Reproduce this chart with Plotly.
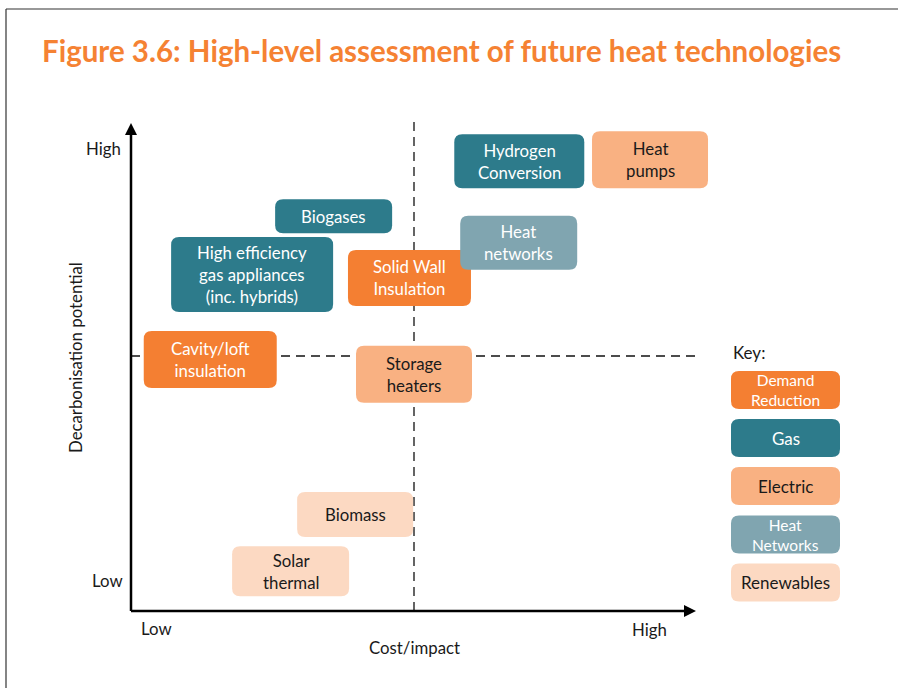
"""
Figure 3.6 — high-level assessment of future heat technologies.
Rounded boxes placed on a cost vs decarbonisation plane, with a key.
"""

import plotly.graph_objects as go

# ----------------------------------------------------------------------
# Data (cost/impact score, decarbonisation score on a 0–10 scale)
# ----------------------------------------------------------------------

technologies = [
    "Hydrogen<br>Conversion",
    "Heat<br>pumps",
    "Biogases",
    "Solid Wall<br>Insulation",
    "Heat<br>networks",
    "High efficiency<br>gas appliances<br>(inc. hybrids)",
    "Cavity/loft<br>insulation",
    "Storage<br>heaters",
    "Biomass",
    "Solar<br>thermal",
]
tech_group = [
    "Gas", "Electric", "Gas", "Demand Reduction", "Heat Networks",
    "Gas", "Demand Reduction", "Electric", "Renewables", "Renewables",
]
cost_impact = [6.86, 9.17, 3.58, 4.92, 6.85, 2.14, 1.40, 5.00, 3.96, 2.82]
decarbonisation = [8.82, 8.85, 7.74, 6.53, 7.22, 6.60, 4.93, 4.64, 1.89, 0.78]

key_groups = ["Demand Reduction", "Gas", "Electric", "Heat Networks", "Renewables"]
key_labels = ["Demand<br>Reduction", "Gas", "Electric", "Heat<br>Networks", "Renewables"]

axis_ticks = ["Low", "High"]

# ----------------------------------------------------------------------
# Styling
# ----------------------------------------------------------------------

W, H = 898, 688
X_UNIT, Y_UNIT = 56.6, 51.0      # pixels per score unit
ORIGIN_PX = (131, 611)           # pixel position of (0, 0)
FONT = "Lato"

fill_colour = {
    "Demand Reduction": "#F47F32",
    "Gas":              "#2D7B8B",
    "Electric":         "#F9B182",
    "Heat Networks":    "#80A5B0",
    "Renewables":       "#FCD9C2",
}
text_colour = {
    "Demand Reduction": "#FFFFFF",
    "Gas":              "#FFFFFF",
    "Electric":         "#1A1A1A",
    "Heat Networks":    "#FFFFFF",
    "Renewables":       "#1A1A1A",
}
# box sizes in pixels (width, height)
box_size = [
    (130, 54), (116, 57), (117, 34), (123, 56), (117, 54),
    (162, 75), (133, 57), (116, 57), (116, 45), (117, 50),
]


def px_x(px):
    return (px - ORIGIN_PX[0]) / X_UNIT


def px_y(py):
    return (ORIGIN_PX[1] - py) / Y_UNIT


def rounded_box(cx, cy, w_px, h_px, colour, r_px=8):
    """Rounded rectangle shape centred on (cx, cy) in data units."""
    hw, hh = w_px / 2 / X_UNIT, h_px / 2 / Y_UNIT
    rx, ry = r_px / X_UNIT, r_px / Y_UNIT
    x0, x1, y0, y1 = cx - hw, cx + hw, cy - hh, cy + hh
    path = (
        f"M {x0 + rx},{y0} L {x1 - rx},{y0} Q {x1},{y0} {x1},{y0 + ry} "
        f"L {x1},{y1 - ry} Q {x1},{y1} {x1 - rx},{y1} "
        f"L {x0 + rx},{y1} Q {x0},{y1} {x0},{y1 - ry} "
        f"L {x0},{y0 + ry} Q {x0},{y0} {x0 + rx},{y0} Z"
    )
    return dict(type="path", path=path, xref="x", yref="y",
                fillcolor=colour, line=dict(width=0), layer="above")


fig = go.Figure()
shapes = []
annotations = []

# ----------------------------------------------------------------------
# Quadrant dashed lines and axes with arrowheads
# ----------------------------------------------------------------------

dash = "9px,6px"
shapes.append(dict(type="line", xref="x", yref="y", x0=5, x1=5,
                   y0=0, y1=px_y(120), line=dict(color="#111", width=1.3, dash=dash)))
shapes.append(dict(type="line", xref="x", yref="y", x0=0, x1=px_x(697),
                   y0=5, y1=5, line=dict(color="#111", width=1.3, dash=dash)))

x_end, y_end = px_x(696), px_y(123)
shapes.append(dict(type="line", xref="x", yref="y", x0=0, x1=x_end - 0.15,
                   y0=0, y1=0, line=dict(color="#000", width=2.5)))
shapes.append(dict(type="line", xref="x", yref="y", x0=0, x1=0,
                   y0=0, y1=y_end - 0.18, line=dict(color="#000", width=2.5)))
ah_x, ah_y = 6 / X_UNIT, 6 / Y_UNIT
shapes.append(dict(
    type="path", xref="x", yref="y", fillcolor="#000", line=dict(width=0),
    path=f"M {x_end},0 L {x_end - 12 / X_UNIT},{ah_y} L {x_end - 12 / X_UNIT},{-ah_y} Z"))
shapes.append(dict(
    type="path", xref="x", yref="y", fillcolor="#000", line=dict(width=0),
    path=f"M 0,{y_end} L {ah_x},{y_end - 12 / Y_UNIT} L {-ah_x},{y_end - 12 / Y_UNIT} Z"))

# ----------------------------------------------------------------------
# Technology boxes
# ----------------------------------------------------------------------

for label, group, cx, cy, (bw, bh) in zip(technologies, tech_group, cost_impact,
                                           decarbonisation, box_size):
    shapes.append(rounded_box(cx, cy, bw, bh, fill_colour[group]))
    annotations.append(dict(
        x=cx, y=cy, xref="x", yref="y", text=label, showarrow=False,
        yanchor="middle", font=dict(family=FONT, size=16.8, color=text_colour[group]),
    ))

# ----------------------------------------------------------------------
# Key
# ----------------------------------------------------------------------

key_cx = px_x(785.5)
key_cy = [px_y(v) for v in (390, 438, 486, 534.5, 582.5)]
annotations.append(dict(x=px_x(731), y=px_y(352), xref="x", yref="y", text="Key:",
                        showarrow=False, xanchor="left", yanchor="middle",
                        font=dict(family=FONT, size=17, color="#1A1A1A")))
for group, label, cy in zip(key_groups, key_labels, key_cy):
    shapes.append(rounded_box(key_cx, cy, 109, 38, fill_colour[group]))
    two_lines = "<br>" in label
    annotations.append(dict(
        x=key_cx, y=cy, xref="x", yref="y", text=label,
        showarrow=False, yanchor="middle",
        font=dict(family=FONT, size=15.5 if two_lines else 17,
                  color=text_colour[group]),
    ))

# ----------------------------------------------------------------------
# Axis labels
# ----------------------------------------------------------------------

lab_font = dict(family=FONT, size=16.8, color="#1A1A1A")
annotations += [
    dict(x=px_x(123), y=px_y(148), text=axis_ticks[1], xanchor="right"),
    dict(x=px_x(125), y=px_y(580), text=axis_ticks[0], xanchor="right"),
    dict(x=px_x(156), y=px_y(628), text=axis_ticks[0]),
    dict(x=px_x(649), y=px_y(629), text=axis_ticks[1]),
    dict(x=5, y=px_y(647), text="Cost/impact"),
    dict(x=px_x(75), y=px_y(358), text="Decarbonisation potential", textangle=-90),
]
for a in annotations[-6:]:
    a.update(xref="x", yref="y", showarrow=False, yanchor="middle", font=lab_font)

# title
annotations.append(dict(
    x=40 / W, y=1 - 50 / H, xref="paper", yref="paper",
    xanchor="left", yanchor="middle",
    text="<b>Figure 3.6: High-level assessment of future heat technologies</b>",
    showarrow=False, font=dict(family=FONT, size=29.5, color="#F58233"),
))

# page border (top and left edges)
shapes.append(dict(type="line", xref="paper", yref="paper", x0=6 / W, x1=1,
                   y0=1 - 9 / H, y1=1 - 9 / H, line=dict(color="#333", width=1.2)))
shapes.append(dict(type="line", xref="paper", yref="paper", x0=6 / W, x1=6 / W,
                   y0=0, y1=1 - 9 / H, line=dict(color="#333", width=1.2)))

fig.update_layout(
    width=W, height=H,
    margin=dict(l=0, r=0, t=0, b=0),
    paper_bgcolor="#FFFFFF",
    plot_bgcolor="#FFFFFF",
    showlegend=False,
    hovermode=False,
    shapes=shapes,
    annotations=annotations,
    xaxis=dict(range=[px_x(0), px_x(W)], visible=False, fixedrange=True),
    yaxis=dict(range=[px_y(H), px_y(0)], visible=False, fixedrange=True),
)

fig.write_html("out.html", config={"displayModeBar": False},
               post_script="document.body.style.margin = '0';")
